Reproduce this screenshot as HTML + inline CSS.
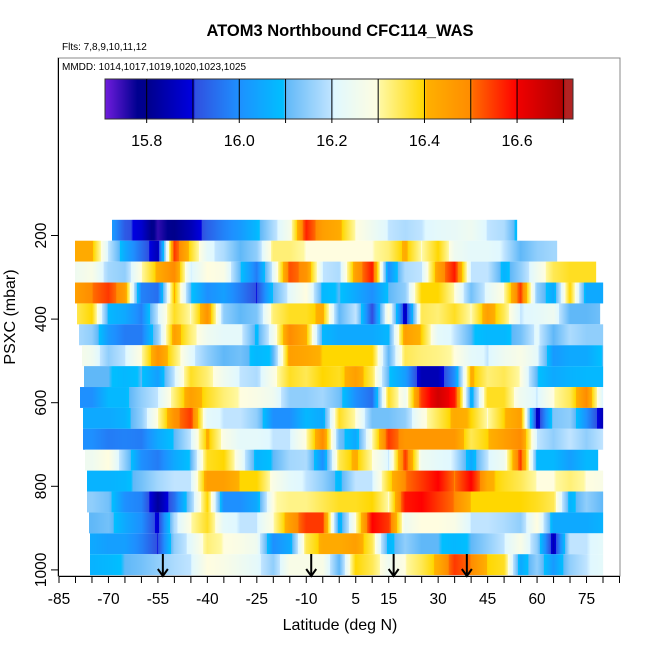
<!DOCTYPE html>
<html><head><meta charset="utf-8"><style>
body{margin:0;background:#fff}
svg text{font-family:"Liberation Sans",Arial,sans-serif}
</style></head><body>
<svg id="chart" width="650" height="650" viewBox="0 0 650 650" xmlns="http://www.w3.org/2000/svg">
<rect width="650" height="650" fill="#fff"/>
<text x="340" y="36" text-anchor="middle" font-size="16.5" font-weight="bold">ATOM3 Northbound CFC114_WAS</text>
<text x="62" y="50" font-size="10">Flts: 7,8,9,10,11,12</text>
<rect x="58" y="58" width="562" height="518" fill="none" stroke="#888" stroke-width="1"/>
<text x="62" y="70" font-size="10">MMDD: 1014,1017,1019,1020,1023,1025</text>
<g id="cbar"></g>
<g id="heat"></g>
<g id="arrows"></g>
<g id="axes"></g>
<text transform="translate(15,317) rotate(-90)" text-anchor="middle" font-size="16">PSXC (mbar)</text>
<text x="340" y="630" text-anchor="middle" font-size="16">Latitude (deg N)</text>
</svg>
<script>
const rowPressures=[187.5,237.5,287.5,337.5,387.5,437.5,487.5,537.5,587.5,637.5,687.5,737.5,787.5,837.5,887.5,937.5,987.5];
const rowStart=[-69,-80,-80,-80,-79.5,-79,-78,-77.5,-78.6,-77.8,-77.8,-77,-76.5,-76.5,-76,-75.6,-75.6];
const rowEnd=[54,66,78,80,79,80,80,80,80,80,80,78.6,80,80,80,80,80];
const gridLats=[-80,-75,-70,-65,-60,-55,-50,-45,-40,-35,-30,-25,-20,-15,-10,-5,0,5,10,15,20,25,30,35,40,45,50,55,60,65,70,75,80];
const row0=[16.05,16.05,16.05,15.92,15.88,15.75,15.8,15.85,15.93,15.98,16.02,16.08,16.18,16.27,16.57,16.45,16.42,16.3,16.25,16.2,16.18,16.2,16.22,16.23,16.25,16.2,16.18,16.05,16.05,16.05,16.05,16.05,16.05];
const row1=[16.42,16.42,16.2,16.05,15.95,15.85,16.55,16.38,16.22,16.18,16.1,16.15,16.33,16.33,16.3,16.3,16.3,16.3,16.3,16.33,16.42,16.3,16.4,16.25,16.22,16.22,16.2,16.1,16.15,16.17,16.17,16.17,16.17];
const row2=[16.25,16.28,16.17,16.15,16.3,16.42,16.5,16.2,16.3,16.28,16.1,15.97,16.22,16.53,16.48,16.2,16.18,16.45,16.58,16.0,16.18,16.2,16.45,16.58,16.2,16.2,16.07,16.15,16.25,16.35,16.38,16.38,16.38];
const row3=[16.45,16.5,16.55,16.45,15.98,15.95,16.42,16.1,16.0,16.03,15.97,15.9,16.1,16.22,16.3,16.08,16.1,16.05,16.0,16.1,16.15,16.4,16.4,16.3,16.12,16.22,16.3,16.55,16.15,16.05,16.4,16.05,16.05];
const row4=[16.35,16.4,16.08,16.05,15.98,16.2,16.38,16.3,16.48,16.15,16.1,16.13,16.33,16.38,16.38,16.42,16.1,16.2,15.9,16.3,15.85,16.35,16.33,16.38,16.3,16.45,16.35,16.2,16.22,16.25,16.1,16.1,16.12];
const row5=[16.18,16.15,16.02,15.97,15.97,16.15,16.45,16.33,16.25,16.22,16.22,16.08,16.25,16.5,16.42,16.08,16.05,16.05,16.05,16.08,16.45,16.4,16.22,16.2,16.1,16.08,16.08,16.12,16.22,16.1,16.18,16.15,16.15];
const row6=[16.28,16.25,16.15,16.2,16.3,16.48,16.35,16.22,16.15,16.1,16.12,16.08,16.1,16.45,16.43,16.4,16.4,16.4,16.4,16.1,16.35,16.33,16.32,16.3,16.22,16.2,16.25,16.28,16.22,16.02,16.05,16.05,16.1];
const row7=[16.1,16.1,16.1,16.08,16.1,16.03,16.2,16.38,16.33,16.25,16.2,16.18,16.28,16.38,16.35,16.4,16.38,16.45,16.35,16.1,16.03,15.85,15.85,16.0,16.42,16.33,16.35,16.3,16.1,16.05,16.07,16.08,16.08];
const row8=[16.0,16.0,16.08,16.08,16.15,16.2,16.33,16.45,16.38,16.33,16.3,16.28,16.25,16.15,16.15,16.17,16.12,16.0,15.95,16.38,16.25,16.55,16.65,16.58,16.05,16.38,16.38,16.25,16.2,16.3,16.35,16.5,16.2];
const row9=[16.05,16.05,16.05,16.07,16.15,16.3,16.48,16.55,16.22,16.2,16.2,16.15,16.0,16.0,16.08,16.05,16.38,16.3,16.12,16.12,16.15,16.28,16.35,16.42,16.4,16.3,16.4,16.45,15.85,16.13,16.15,16.0,15.85];
const row10=[16.0,16.0,15.97,15.98,15.97,16.05,16.1,16.2,16.42,16.28,16.22,16.22,16.2,16.2,16.3,16.5,16.12,16.05,16.3,16.55,16.47,16.47,16.47,16.47,16.35,16.4,16.45,16.5,16.2,16.15,16.2,16.15,16.2];
const row11=[16.25,16.25,16.3,16.15,16.0,15.97,16.05,16.1,16.38,16.4,16.25,16.07,16.1,16.17,16.18,16.0,16.35,16.42,16.3,16.2,16.55,16.25,16.22,16.2,16.05,16.2,16.25,16.55,16.08,16.08,16.03,16.08,16.08];
const row12=[16.07,16.07,16.07,16.08,16.12,16.17,16.2,16.2,16.45,16.45,16.4,16.4,16.28,16.22,16.2,16.15,16.08,16.2,16.2,16.38,16.5,16.55,16.6,16.5,16.6,16.42,16.38,16.35,16.3,16.3,16.33,16.3,16.28];
const row13=[16.15,16.15,16.12,16.0,15.98,15.82,15.95,16.15,16.4,16.0,16.0,16.05,16.3,16.32,16.32,16.35,16.38,16.38,16.4,16.3,16.58,16.6,16.55,16.5,16.4,16.4,16.4,16.4,16.38,16.35,16.07,16.15,16.1];
const row14=[16.1,16.1,16.12,16.05,16.0,15.88,16.18,16.3,16.38,16.22,16.2,16.2,16.3,16.45,16.55,16.55,16.05,16.3,16.6,16.55,16.25,16.3,16.3,16.28,16.2,16.2,16.18,16.15,16.3,16.05,16.05,16.05,16.07];
const row15=[16.05,16.05,16.03,16.03,15.98,15.9,16.15,16.22,16.33,16.3,16.28,16.25,16.0,16.05,16.35,16.42,16.42,16.45,16.35,16.07,16.15,16.1,16.1,16.08,16.1,16.15,16.2,16.28,16.15,15.85,16.2,16.2,16.22];
const row16=[16.07,16.07,16.08,16.1,16.12,16.15,16.18,16.2,16.3,16.28,16.25,16.22,16.15,16.28,16.28,16.28,16.1,16.4,16.35,16.25,16.3,16.35,16.42,16.55,16.5,16.4,16.38,16.05,16.15,16.02,16.15,16.2,16.22];
const rowValues=[row0,row1,row2,row3,row4,row5,row6,row7,row8,row9,row10,row11,row12,row13,row14,row15,row16];
const arrowLats=[-53.5,-8.5,16.5,38.7];
const xTickLabels=[-85,-70,-55,-40,-25,-10,5,15,30,45,60,75];
const yTickLabels=[200,400,600,800,1000];
const cbarTickLabels=[15.8,16.0,16.2,16.4,16.6];

const NS="http://www.w3.org/2000/svg";
function mk(tag,attrs,parent){const e=document.createElementNS(NS,tag);for(const k in attrs)e.setAttribute(k,attrs[k]);parent.appendChild(e);return e;}
const xS=lat=>59+(lat+85)*3.297;
const yS=p=>235.5+(p-200)*0.418;
const cX=v=>105+(v-15.71)*463;
const stops=[[15.70,[128,32,232]],[15.78,[0,0,144]],[15.80,[0,0,139]],[15.90,[0,0,224]],[15.905,[48,80,224]],[16.00,[30,144,255]],[16.095,[0,191,255]],[16.10,[96,184,248]],[16.20,[192,228,255]],[16.205,[224,248,255]],[16.30,[255,253,224]],[16.305,[255,248,160]],[16.40,[255,215,0]],[16.405,[255,176,0]],[16.50,[255,140,0]],[16.505,[255,106,0]],[16.60,[255,0,0]],[16.605,[238,0,0]],[16.70,[176,0,0]],[16.705,[178,34,34]],[16.80,[178,34,34]]];
function col(v){
  if(v<=stops[0][0])return "rgb("+stops[0][1]+")";
  for(let i=1;i<stops.length;i++){if(v<=stops[i][0]){const a=stops[i-1],b=stops[i],t=(v-a[0])/(b[0]-a[0]);
    return "rgb("+a[1].map((c,j)=>Math.round(c+(b[1][j]-c)*t)).join(",")+")";}}
  return "rgb("+stops[stops.length-1][1]+")";
}
function valAt(arr,lat){
  const f=(lat-gridLats[0])/5;let i=Math.floor(f);if(i<0)return arr[0];if(i>=arr.length-1)return arr[arr.length-1];
  const t=f-i;return arr[i]+(arr[i+1]-arr[i])*t;
}
// colorbar
const cb=document.getElementById('cbar');
for(let x=105;x<573;x++){const v=15.71+(x+0.5-105)/463;
  const r=mk('rect',{x:x,y:79,width:1.2,height:40,fill:col(v)},cb);
  
  }
mk('rect',{x:105,y:79,width:468,height:40,fill:'none',stroke:'#333','stroke-width':1},cb);
for(let k=0;k<10;k++){const v=15.8+k*0.1;const x=cX(v);
  const l=mk('line',{x1:x,x2:x,y1:79,y2:123,stroke:'#000','stroke-width':1},cb);
  
  }
cbarTickLabels.forEach(v=>{const t=mk('text',{x:cX(v),y:146,'text-anchor':'middle','font-size':16},cb);t.textContent=v.toFixed(1);
  
  });
// heatmap
const hg=document.getElementById('heat');
rowValues.forEach((arr,r)=>{
  const yc=yS(rowPressures[r]);const y0=Math.max(yc-10.45,0),y1=Math.min(yc+10.45,576);
  const xa=Math.round(xS(rowStart[r])),xb=Math.round(xS(rowEnd[r]));
  for(let x=xa;x<xb;x++){const lat=(x+0.5-59)/3.297-85;
    const e=mk('rect',{x:x,y:y0.toFixed(2),width:1.15,height:(y1-y0).toFixed(2),fill:col(valAt(arr,lat))},hg);
    
    }
});
// arrows
const ag=document.getElementById('arrows');
arrowLats.forEach(l=>{const x=xS(l);
  const g=mk('g',{},ag);
  
  
  mk('line',{x1:x,x2:x,y1:554,y2:576,stroke:'#000','stroke-width':2},g);
  mk('polyline',{points:(x-5)+',569 '+x+',576 '+(x+5)+',569',fill:'none',stroke:'#000','stroke-width':2},g);});
// axes
const ax=document.getElementById('axes');
mk('line',{x1:58.5,x2:58.5,y1:58,y2:576,stroke:'#000','stroke-width':1},ax);
mk('line',{x1:59,x2:620,y1:576.5,y2:576.5,stroke:'#000','stroke-width':1},ax);
for(let l=-85;l<=85;l+=5){const x=xS(l);
  const t=mk('line',{x1:x,x2:x,y1:576,y2:583,stroke:'#000','stroke-width':1},ax);
  
  }
xTickLabels.forEach(l=>{const t=mk('text',{x:xS(l),y:604,'text-anchor':'middle','font-size':15.5},ax);t.textContent=l;
  
  });
yTickLabels.forEach(p=>{const y=yS(p);
  const t=mk('line',{x1:51,x2:58.5,y1:y,y2:y,stroke:'#000','stroke-width':1},ax);
  
  
  const s=mk('text',{transform:'translate(46,'+y+') rotate(-90)','text-anchor':'middle','font-size':15.5},ax);s.textContent=p;
  
  });
</script>
</body></html>
